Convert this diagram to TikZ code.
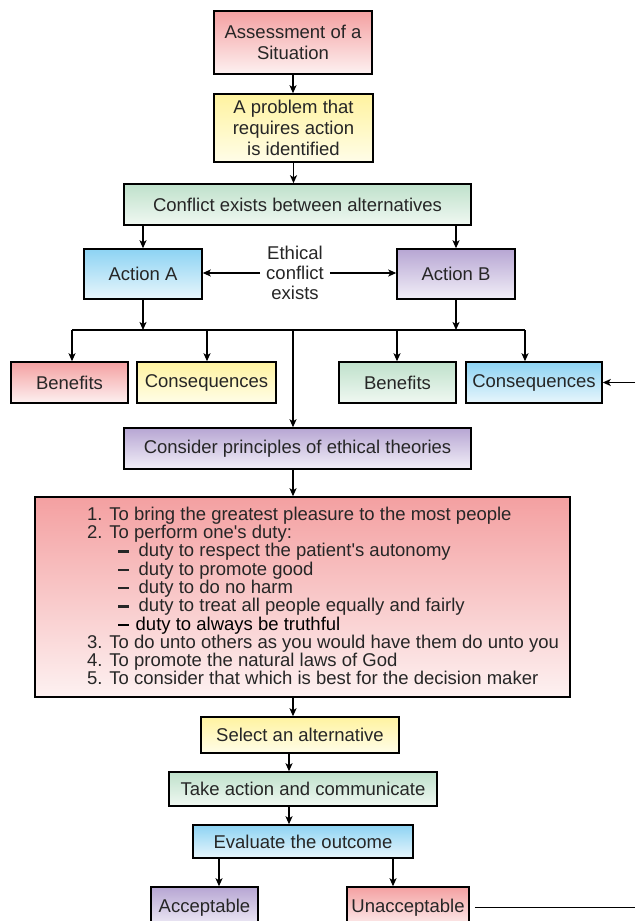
\documentclass[tikz,border=0pt]{standalone}
\usepackage{fontspec}
\setmainfont{Liberation Sans}
\usetikzlibrary{arrows.meta}
\definecolor{txt}{HTML}{262626}
\definecolor{rtop}{HTML}{F4A0A1}
\definecolor{rbot}{HTML}{FDF1F1}
\definecolor{ytop}{HTML}{FFF3A0}
\definecolor{ybot}{HTML}{FFFDE8}
\definecolor{gtop}{HTML}{BFE1CB}
\definecolor{gbot}{HTML}{F0F8F2}
\definecolor{btop}{HTML}{8DD3F3}
\definecolor{bbot}{HTML}{E8F6FC}
\definecolor{ptop}{HTML}{B7A6D3}
\definecolor{pbot}{HTML}{F2EFF8}
\newcommand{\dbar}{\rule[4pt]{10.5pt}{2.4pt}}
\begin{document}
\begin{tikzpicture}[x=1pt,y=-1pt,
  font=\fontsize{18.5}{21}\selectfont,
  box/.style={draw=black, line width=1.5pt, text=txt, align=center, inner sep=0pt},
  redbox/.style={box, top color=rtop, bottom color=rbot},
  yelbox/.style={box, top color=ytop, bottom color=ybot},
  grnbox/.style={box, top color=gtop, bottom color=gbot},
  blubox/.style={box, top color=btop, bottom color=bbot},
  purbox/.style={box, top color=ptop, bottom color=pbot},
  conn/.style={line width=1.4pt, draw=black},
  arr/.style={conn, -{Stealth[length=8pt,width=7pt,inset=2pt]}},
]
\clip (0,0) rectangle (635,921);
\fill[white] (0,0) rectangle (635,921);

% nodes
\node[redbox, minimum width=158pt, minimum height=63pt] (assess) at (293,42.5) {Assessment of a\\Situation};
\node[yelbox, minimum width=159pt, minimum height=68pt] (problem) at (293.5,128) {A problem that\\requires action\\is identified};
\node[grnbox, minimum width=347pt, minimum height=41pt] (conflict) at (297.5,204.5) {Conflict exists between alternatives};
\node[blubox, minimum width=118pt, minimum height=50pt] (actA) at (143,274) {Action A};
\node[purbox, minimum width=118pt, minimum height=50pt] (actB) at (456,274) {Action B};
\node[text=txt, align=center, inner xsep=6pt, inner ysep=0pt, font=\fontsize{18.5}{20}\selectfont] (ethical) at (295,273) {Ethical\\conflict\\exists};

\node[redbox, minimum width=117pt, minimum height=41pt] (benA) at (69.5,382.5) {Benefits};
\node[yelbox, minimum width=139pt, minimum height=41pt] (conA) at (206.5,382.5) {Consequences};
\node[grnbox, minimum width=117pt, minimum height=41pt] (benB) at (397.5,382.5) {Benefits};
\node[blubox, minimum width=136pt, minimum height=41pt] (conB) at (534,382.5) {Consequences};

\node[purbox, minimum width=347pt, minimum height=41pt] (consider) at (297.5,448.5) {Consider principles of ethical theories};

\node[redbox, minimum width=535pt, minimum height=200pt] (big) at (302.5,597) {};
\node[text=txt, align=left, inner sep=0pt, anchor=west, font=\fontsize{18.5}{18.3}\selectfont] (bigtext) at (87,596) {%
1. To bring the greatest pleasure to the most people\\
2. To perform one\textquotesingle s duty:\\
\hspace*{31pt}\dbar\hspace{10pt}duty to respect the patient\textquotesingle s autonomy\\
\hspace*{31pt}\dbar\hspace{10pt}duty to promote good\\
\hspace*{31pt}\dbar\hspace{10pt}duty to do no harm\\
\hspace*{31pt}\dbar\hspace{10pt}duty to treat all people equally and fairly\\
\hspace*{31pt}\textcolor{black}{\dbar\hspace{7pt}duty to always be truthful}\\
3. To do unto others as you would have them do unto you\\
4. To promote the natural laws of God\\
5. To consider that which is best for the decision maker};

\node[yelbox, minimum width=198pt, minimum height=36pt] (select) at (300,735) {Select an alternative};
\node[grnbox, minimum width=268pt, minimum height=34pt] (take) at (303,789) {Take action and communicate};
\node[blubox, minimum width=220pt, minimum height=33pt] (eval) at (303,841.5) {Evaluate the outcome};
\node[purbox, minimum width=107pt, minimum height=41pt] (accept) at (204.5,907.5) {Acceptable};
\node[redbox, minimum width=122pt, minimum height=41pt] (unaccept) at (408,907.5) {Unacceptable};

% helper coordinates
\coordinate (bA) at (72,330);
\coordinate (cA) at (207,330);
\coordinate (bB) at (397,330);
\coordinate (cB) at (525,330);
\coordinate (mid) at (293,330);
\coordinate (spine) at (289,0);
\coordinate (ea) at (219,0);
\coordinate (eu) at (393,0);
\coordinate (inB) at (635,382.5);
\coordinate (outU) at (635,907.5);

% connectors
\draw[arr] (assess.south) -- (assess.south |- problem.north);
\draw[arr] (problem.south) -- (problem.south |- conflict.north);
\draw[arr] (conflict.south -| actA) -- (actA.north);
\draw[arr] (conflict.south -| actB) -- (actB.north);
\draw[arr] (ethical.west) -- (ethical.west -| actA.east);
\draw[arr] (ethical.east) -- (ethical.east -| actB.west);
\draw[arr] (actA.south) -- (actA.south |- bA);
\draw[arr] (actB.south) -- (actB.south |- bA);
\draw[conn] (bA) -- (cB);
\draw[arr] (bA) -- (bA |- benA.north);
\draw[arr] (cA) -- (cA |- conA.north);
\draw[arr] (bB) -- (bB |- benB.north);
\draw[arr] (cB) -- (cB |- conB.north);
\draw[arr] (mid) -- (mid |- consider.north);
\draw[arr] (consider.south -| mid) -- (big.north -| mid);
\draw[arr] (big.south -| mid) -- (select.north -| mid);
\draw[arr] (select.south -| spine) -- (take.north -| spine);
\draw[arr] (take.south -| spine) -- (eval.north -| spine);
\draw[arr] (eval.south -| ea) -- (accept.north -| ea);
\draw[arr] (eval.south -| eu) -- (unaccept.north -| eu);
\draw[arr, line width=1.1pt] (inB) -- (conB.east);
\draw[conn, line width=1.6pt, shorten <=5pt] (unaccept.east) -- (outU);
\end{tikzpicture}
\end{document}
